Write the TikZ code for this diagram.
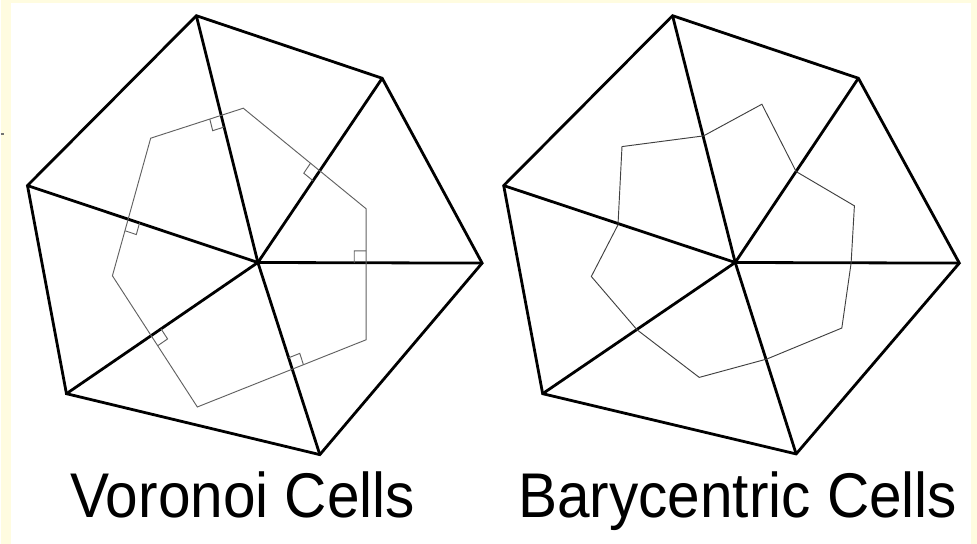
\documentclass[tikz,border=0pt]{standalone}
\usepackage{fontspec}
\setmainfont{Liberation Sans}
\usepackage{tikz}
\usetikzlibrary{calc}
\definecolor{pagebg}{RGB}{255,252,224}

% right angle mark at #1, spanned towards #2 and #3
\newcommand{\rtmark}[3]{%
  \draw[cell] ($(#1)!9pt!(#2)$) -- ($(#1)!9pt!(#2)+(#1)!9pt!(#3)-(#1)$) -- ($(#1)!9pt!(#3)$);}

\begin{document}
\begin{tikzpicture}[x=0.75pt, y=-0.75pt,
  edge/.style={line width=2.1pt, black},
  cell/.style={line width=0.7pt, black!62},
  bary/.style={line width=0.7pt, black!75},
  caption/.style={font=\fontsize{43.5pt}{50pt}\selectfont, anchor=base, inner sep=0pt,
    xscale=1.01, yscale=1.09, transform shape}]
\fill[pagebg] (0,0) rectangle (977,544);
\fill[white] (10,3) rectangle (971,544);
\draw[black!55, line width=1.2pt] (0,134) -- (3,134);

% left: triangulation
\coordinate (c) at (257.3,262.7);
\coordinate (p1) at (195.7,15.7);
\coordinate (p2) at (381.7,78.3);
\coordinate (p3) at (481.7,263.3);
\coordinate (p4) at (319.3,455);
\coordinate (p5) at (65.7,394);
\coordinate (p6) at (26.7,185.7);
\draw[edge] (p1) -- (p2) -- (p3) -- (p4) -- (p5) -- (p6) -- cycle;
\foreach \p in {p1,p2,p3,p4,p5,p6} \draw[edge] (c) -- (\p);

% left: voronoi cell
\coordinate (v1) at (242.7,108.3);
\coordinate (v2) at (365.7,209);
\coordinate (v3) at (365.7,340);
\coordinate (v4) at (196.7,407.3);
\coordinate (v5) at (111.7,276);
\coordinate (v6) at (150,138.3);
\draw[cell] (v1) -- (v2) -- (v3) -- (v4) -- (v5) -- (v6) -- cycle;
\coordinate (i1) at (intersection of c--p1 and v6--v1);
\coordinate (i2) at (intersection of c--p2 and v1--v2);
\coordinate (i3) at (intersection of c--p3 and v2--v3);
\coordinate (i4) at (intersection of c--p4 and v3--v4);
\coordinate (i5) at (intersection of c--p5 and v4--v5);
\coordinate (i6) at (intersection of c--p6 and v5--v6);
\rtmark{i1}{c}{v6}
\rtmark{i2}{c}{v1}
\rtmark{i3}{c}{v2}
\rtmark{i4}{c}{v3}
\rtmark{i5}{c}{v4}
\rtmark{i6}{c}{v5}

% right: triangulation
\coordinate (d) at (735,262.7);
\coordinate (q1) at (672.3,15.7);
\coordinate (q2) at (858.3,78.3);
\coordinate (q3) at (959.3,263.3);
\coordinate (q4) at (796,454.3);
\coordinate (q5) at (542.3,394);
\coordinate (q6) at (503.3,185.7);
\draw[edge] (q1) -- (q2) -- (q3) -- (q4) -- (q5) -- (q6) -- cycle;
\foreach \q in {q1,q2,q3,q4,q5,q6} \draw[edge] (d) -- (\q);

% right: barycentric cell
\coordinate (b1) at (761.7,104.3);
\coordinate (b2) at (796,171.7);
\coordinate (b3) at (854.3,206);
\coordinate (b4) at (851,263.3);
\coordinate (b5) at (841.7,328.3);
\coordinate (b6) at (766.7,359.3);
\coordinate (b7) at (699,377.7);
\coordinate (b8) at (636.7,330);
\coordinate (b9) at (591,276.7);
\coordinate (b10) at (617.7,225);
\coordinate (b11) at (621.7,146.7);
\coordinate (b12) at (703.3,136);
\draw[bary] (b1) -- (b2) -- (b3) -- (b4) -- (b5) -- (b6) -- (b7) -- (b8)
  -- (b9) -- (b10) -- (b11) -- (b12) -- cycle;

\node[caption] (voronoi) at (242,518) {Voronoi Cells};
\node[caption] (barycentric) at (737.5,518) {Barycentric Cells};
\end{tikzpicture}
\end{document}
